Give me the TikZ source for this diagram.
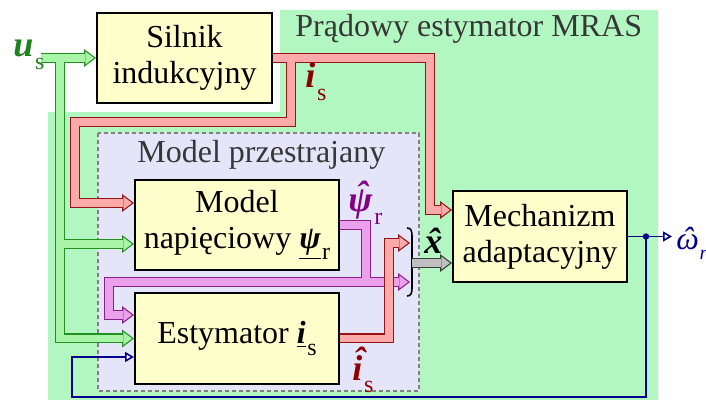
\documentclass[tikz,border=0pt]{standalone}
\usepackage{fontspec}
\setmainfont{Liberation Serif}
\usetikzlibrary{arrows.meta,calc}
\definecolor{bggreen}{RGB}{178,247,194}
\definecolor{mpfill}{RGB}{229,229,250}
\definecolor{boxfill}{RGB}{255,255,204}
\definecolor{gline}{RGB}{34,145,34}
\definecolor{gfill}{RGB}{168,245,168}
\definecolor{rline}{RGB}{150,20,20}
\definecolor{rfill}{RGB}{255,170,170}
\definecolor{mline}{RGB}{140,30,140}
\definecolor{mfill}{RGB}{235,160,235}
\definecolor{kline}{RGB}{60,60,60}
\definecolor{kfill}{RGB}{192,192,192}
\definecolor{fbblue}{RGB}{0,0,140}
\definecolor{usgreen}{RGB}{30,130,30}
\definecolor{isred}{RGB}{140,0,0}
\definecolor{psipurple}{RGB}{130,0,130}
\definecolor{titlegray}{RGB}{55,55,55}
\newcommand{\sig}[2]{#1\kern.05em\raisebox{-.36em}{\fontsize{12}{12}\selectfont\mdseries\upshape#2}}
\newcommand{\hatc}[1]{\accent"02C6 #1}
\tikzset{box/.style={draw,line width=1pt,fill=boxfill,align=center,inner sep=0pt,font=\fontsize{16}{18}\selectfont},
  caption/.style={anchor=base west,inner sep=0pt,text=titlegray,font=\fontsize{16}{18}\selectfont},
  lab/.style={anchor=base west,inner sep=0pt,font=\fontsize{18}{20}\selectfont\bfseries\itshape},
  pipeout/.style={line width=5pt,draw=#1,-{Triangle[length=6pt,width=9pt,line width=0pt]}},
  pipein/.style={line width=3.8pt,draw=#1,-{Triangle[length=4.3pt,width=6.5pt,sep=1pt,line width=0pt]}},
  gout/.style={pipeout=gline}, gin/.style={pipein=gfill},
  rout/.style={pipeout=rline}, rin/.style={pipein=rfill},
  mout/.style={pipeout=mline}, min/.style={pipein=mfill},
  kout/.style={pipeout=kline}, kin/.style={pipein=kfill},
  fb/.style={draw=fbblue,line width=0.8pt,-{Triangle[length=4.5pt,width=5pt,fill=white]}}}

\begin{document}
\begin{tikzpicture}[x=0.5pt,y=-0.5pt]
\useasboundingbox (0,0) rectangle (706,400);
% estymator MRAS area
\fill[bggreen] (48,400) -- (48,112) -- (280,112) -- (280,10) -- (658,10) -- (658,400) -- cycle;
\draw[draw=gray,fill=mpfill,line width=0.75pt,dash pattern=on 2pt off 1.5pt] (98,133) rectangle (419,391);
\node[caption] (title) at (295,37) {Prądowy estymator MRAS};
\node[caption] (mptitle) at (137,163) {Model przestrajany};
% blocks
\node[box,minimum width=87.5pt,minimum height=45pt] (sil) at (184.5,58) {Silnik\\indukcyjny};
\node[box,minimum width=102pt,minimum height=45pt] (nap) at (237,225) {Model\\napięciowy \sig{\underline{\bfseries\itshape ψ}}{r}};
\node[box,minimum width=102pt,minimum height=45.5pt] (est) at (237,338.5) {Estymator \sig{\underline{\bfseries\itshape i}}{s}};
\node[box,minimum width=87pt,minimum height=45.5pt] (mech) at (540,236.5) {Mechanizm\\adaptacyjny};
% junctions and inputs
\coordinate (usin) at (41,58);
\coordinate (gj) at (60,58);
\coordinate (rj) at (291,58);
\coordinate (rturn) at (430,58);
\coordinate (rleft) at (75,122);
\coordinate (mj) at (366,282);
\coordinate (mleft) at (109,282);
\coordinate (iturn) at (389,338.5);
\coordinate (brkr) at (410,243);
\coordinate (brkm) at (410,282);
\coordinate (xout) at (412,263);
\coordinate (bj) at (646,236.5);
\coordinate (omout) at (672,236.5);
\coordinate (bl) at (72,397);
\coordinate (napr) at ($(nap.west)+(0,-22)$);
\coordinate (napg) at ($(nap.west)+(0,19)$);
\coordinate (estm) at ($(est.west)+(0,-23.5)$);
\coordinate (estb) at ($(est.west)+(0,18.5)$);
\coordinate (mechr) at ($(mech.west)+(0,-26.5)$);
\coordinate (mechx) at ($(mech.west)+(0,26.5)$);
% u_s
\foreach \s in {gout,gin}{
  \draw[\s] (usin) -- (sil.west);
  \draw[\s] (gj) |- (napg);
  \draw[\s] (gj) |- (est.west);
}
% i_s
\foreach \s in {rout,rin}{
  \draw[\s] (sil.east) -- (rturn) |- (mechr);
  \draw[\s] (rj) |- (rleft) |- (napr);
}
% psi_r
\foreach \s in {mout,min}{
  \draw[\s] (nap.east) -| (mj) -- (brkm);
  \draw[\s] (mj) -- (mleft) |- (estm);
}
\foreach \s in {rout,rin}
  \draw[\s] (est.east) -- (iturn) |- (brkr);
\draw[line width=0.8pt] (407,228) .. controls (411,228) and (412,231) .. (412,236) -- (412,288) .. controls (412,293) and (411,296) .. (407,296);
\foreach \s in {kout,kin}
  \draw[\s] (xout) -- (mechx);
% omega_r
\draw[fb] (mech.east) -- (omout);
\draw[fb] (bj) |- (bl) |- (estb);
\fill[fbblue] (bj) circle (1.6pt);
% labels
\node[lab,text=usgreen] (uslab) at (13,57) {\sig{u}{s}};
\node[lab,text=isred] (islab) at (305,88) {\sig{i}{s}};
\node[lab,text=psipurple] (psilab) at (348,212) {\sig{\hatc{ψ}}{r}};
\node[lab,text=isred] (ihatlab) at (352,380) {\sig{\hatc{i}}{s}};
\node[lab] (xlab) at (424,254) {\hatc{x}};
\node[lab,text=fbblue,font=\fontsize{16}{18}\selectfont\itshape] (omlab) at (676,250) {\hatc{ω}\kern.02em\raisebox{-.3em}{\fontsize{10}{10}\selectfont r}};
\end{tikzpicture}
\end{document}
